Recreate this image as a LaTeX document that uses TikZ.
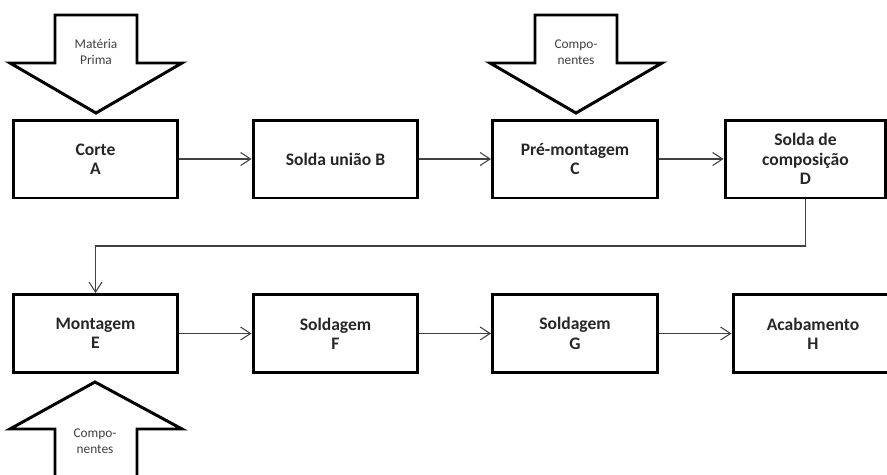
\documentclass[tikz,border=0pt]{standalone}
\usepackage{fontspec}
\setmainfont{Carlito}
\usepackage{tikz}
\usetikzlibrary{positioning}
\usetikzlibrary{arrows.meta}

\begin{document}
\begin{tikzpicture}[
		x=0.02cm, y=-0.02cm,
		b/.style = {rectangle, draw=black, line width=1.7pt, minimum width=3.3cm, minimum height=1.56cm, align=center, font=\fontsize{10}{11}\selectfont\bfseries, text=black!85},
		r/.style = {-{Straight Barb[length=2mm, width=2.6mm]}, draw=black!75, line width=0.6pt},
		big/.style = {draw=black, line width=1.7pt, line join=miter, fill=white},
		lbl/.style = {align=center, font=\fontsize{7.6}{9.4}\selectfont, text=black!75}
		]
		\useasboundingbox (0,0) rectangle (887,474);
		
		%Big arrows
		\draw[big]	(55,15) -- (137,15) -- (137,63) -- (182,63) -- (96,113) -- (10,63) -- (55,63) -- cycle;
		\node[lbl]	(mp)	at	(96,52)	{Matéria\\Prima};
		\draw[big]	(535,15) -- (617,15) -- (617,63) -- (662,63) -- (576,113) -- (490,63) -- (535,63) -- cycle;
		\node[lbl]	(c1)	at	(576,52)	{Compo-\\nentes};
		\draw[big]	(55,480) -- (55,429) -- (10,429) -- (95,382) -- (182,429) -- (137,429) -- (137,480);
		\node[lbl]	(c2)	at	(95,441)	{Compo-\\nentes};
		
		%Nodes
		\node[b]	(a)	at	(95.5,159)	{Corte\\A};
		\node[b]	(bb)	at	(335.5,159)	{Solda união B};
		\node[b]	(c)	at	(575,159)	{Pré-montagem\\C};
		\node[b, minimum width=3.22cm]	(d)	at	(805.5,159)	{Solda de\\composição\\D};
		\node[b]	(e)	at	(95.5,333.5)	{Montagem\\E};
		\node[b]	(f)	at	(335.5,333.5)	{Soldagem\\F};
		\node[b]	(g)	at	(575,333.5)	{Soldagem\\G};
		\node[b, minimum width=3.2cm]	(h)	at	(813,333.5)	{Acabamento\\H};
		\coordinate	(k)	at	(806,246);
		
		%Lines
		\draw[r]	(a)	to	(bb);
		\draw[r]	(bb)	to	(c);
		\draw[r]	(c)	to	(d);
		\draw[r]	(d.south)	|-	(k)	-|	(e.north);
		\draw[r]	(e)	to	(f);
		\draw[r]	(f)	to	(g);
		\draw[r]	(g)	to	(h);
	\end{tikzpicture}
\end{document}
